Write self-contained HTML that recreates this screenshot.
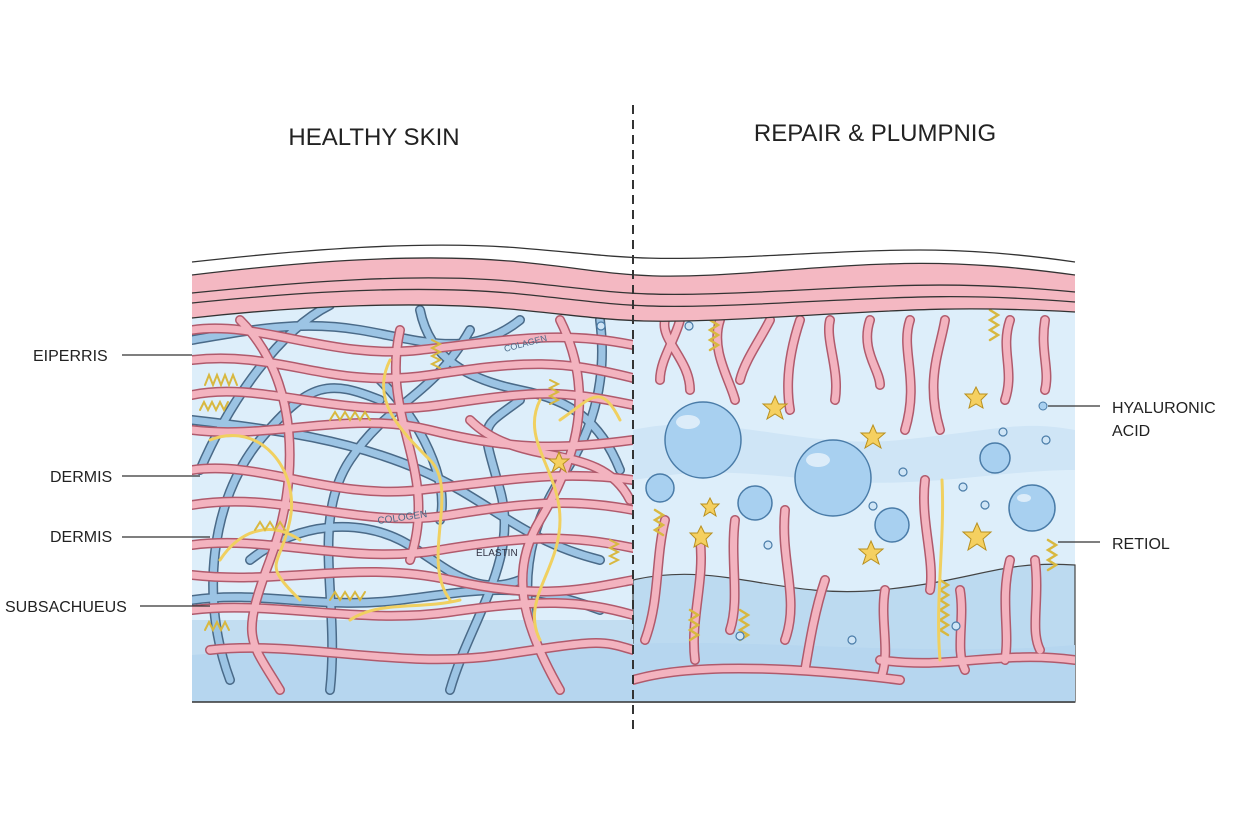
<!DOCTYPE html>
<html><head><meta charset="utf-8"><style>
html,body{margin:0;padding:0;background:#fff;}
svg{display:block;}
text{font-family:"Liberation Sans",sans-serif;fill:#222;}
</style></head><body>
<svg width="1248" height="832" viewBox="0 0 1248 832" xmlns="http://www.w3.org/2000/svg" xmlns:xlink="http://www.w3.org/1999/xlink">
<defs>
<clipPath id="L"><rect x="192" y="300" width="441" height="402"/></clipPath>
<clipPath id="R"><rect x="633" y="300" width="442" height="402"/></clipPath>
<g id="pinkL">
<path d="M192 330 C260 320 330 360 420 350 S560 330 633 345"/>
<path d="M192 360 C280 350 330 390 430 375 S560 360 633 378"/>
<path d="M192 395 C260 380 340 420 440 405 S560 390 633 405"/>
<path d="M192 430 C270 440 350 410 430 430 S560 450 633 440"/>
<path d="M192 470 C260 460 330 500 420 490 S560 470 633 480"/>
<path d="M192 505 C280 490 360 530 450 515 S580 500 633 510"/>
<path d="M192 545 C270 535 350 565 440 550 S570 535 633 548"/>
<path d="M192 575 C280 585 360 560 450 580 S580 590 633 580"/>
<path d="M192 610 C270 600 360 625 450 612 S580 600 633 615"/>
<path d="M240 320 C300 380 300 480 270 560 S250 640 280 690"/>
<path d="M560 320 C600 400 570 470 540 520 S520 620 560 690"/>
<path d="M400 330 C380 420 440 470 410 560"/>
<path d="M470 420 C520 470 600 440 630 500"/>
<path d="M210 650 C300 640 400 670 500 655 S600 640 633 650"/>
</g>
<g id="blueL">
<path d="M192 340 C250 330 300 320 360 330 S470 360 520 320"/>
<path d="M200 470 C230 400 280 330 330 305"/>
<path d="M230 680 C200 600 210 500 260 440 S330 380 380 400"/>
<path d="M330 690 C340 600 310 520 350 460 S430 400 470 330"/>
<path d="M420 310 C430 360 470 380 520 390 S600 420 620 470"/>
<path d="M192 420 C280 430 350 440 420 470 S520 540 600 560"/>
<path d="M192 600 C260 590 320 610 400 600 S520 580 600 610"/>
<path d="M450 690 C470 620 520 560 500 490 S480 430 520 400"/>
<path d="M600 320 C610 400 580 450 560 480 S520 560 530 620"/>
<path d="M250 560 C300 520 360 520 400 540 S470 600 520 580"/>
<path d="M380 380 C420 420 450 480 440 520"/>
</g>
<g id="yellowL" fill="none" stroke="#f0d060" stroke-width="3">
<path d="M210 440 C260 420 300 470 290 520 S260 560 300 600"/>
<path d="M390 360 C370 400 400 430 430 460 S420 560 450 600"/>
<path d="M540 400 C520 440 560 470 560 520 S520 600 540 640"/>
<path d="M220 560 C240 530 270 520 300 540"/>
<path d="M350 620 C380 600 420 610 460 600"/>
<path d="M560 420 C590 400 600 380 620 420"/>
</g>
</defs>
<text x="374" y="145" font-size="24" text-anchor="middle">HEALTHY SKIN</text>
<text x="875" y="141" font-size="24" text-anchor="middle">REPAIR &amp; PLUMPNIG</text>

<rect x="192" y="300" width="883" height="402" fill="#ddeefa"/>
<path d="M633 580 C720 560 780 600 880 590 S1000 560 1075 565 L1075 702 L633 702 Z" fill="#bcdaf0" stroke="#444" stroke-width="1.2"/>
<path d="M633 430 C720 410 800 450 900 440 S1020 420 1075 430 L1075 470 C1000 470 920 490 820 480 S700 470 633 480 Z" fill="#cfe5f6"/>
<path d="M192 620 L633 620 L633 702 L192 702 Z" fill="#c2ddf1"/>
<path d="M192 655 C300 645 420 670 560 650 S900 660 1075 645 L1075 702 L192 702 Z" fill="#b6d6ef"/>

<g clip-path="url(#L)" fill="none" stroke-linecap="round">
<use xlink:href="#blueL" stroke="#4a6a88" stroke-width="10"/>
<use xlink:href="#blueL" stroke="#9cc4e4" stroke-width="7"/>
<use xlink:href="#pinkL" stroke="#b05a6c" stroke-width="10"/>
<use xlink:href="#pinkL" stroke="#f3b3bf" stroke-width="7"/>
<use xlink:href="#yellowL"/>
<g stroke="#d8b840" stroke-width="2">
<path d="M205 385 l4 -10 l4 10 l4 -10 l4 10 l4 -10 l4 10 l4 -10 l4 10"/>
<path d="M200 410 l4 -8 l4 8 l4 -8 l4 8 l4 -8 l4 8 l4 -8"/>
<path d="M432 340 l8 4 l-8 4 l8 4 l-8 4 l8 4 l-8 4 l8 4"/>
<path d="M550 380 l8 4 l-8 4 l8 4 l-8 4 l8 4 l-8 4"/>
<path d="M330 420 l5 -8 l5 8 l5 -8 l5 8 l5 -8 l5 8 l5 -8 l5 8"/>
<path d="M255 530 l5 -8 l5 8 l5 -8 l5 8 l5 -8 l5 8"/>
<path d="M205 630 l4 -8 l4 8 l4 -8 l4 8 l4 -8 l4 8"/>
<path d="M610 540 l8 4 l-8 4 l8 4 l-8 4 l8 4 l-8 4"/>
<path d="M330 600 l5 -8 l5 8 l5 -8 l5 8 l5 -8 l5 8 l5 -8"/>
</g>
</g>
<text x="505" y="352" font-size="9" style="fill:#4a6a88" transform="rotate(-15 505 352)">COLAGEN</text>
<text x="378" y="524" font-size="10" style="fill:#4a6a88" transform="rotate(-8 378 524)">COLOGEN</text>
<text x="476" y="556" font-size="10" style="fill:#334">ELASTIN</text>

<g clip-path="url(#R)" fill="none" stroke-linecap="round">
<g stroke="#b05a6c" stroke-width="10">
<path d="M665 320 C660 340 690 360 690 390"/>
<path d="M680 320 C675 340 660 360 660 380"/>
<path d="M720 320 C710 350 730 380 735 400"/>
<path d="M770 320 C760 340 745 360 740 380"/>
<path d="M800 320 C790 350 785 380 790 410"/>
<path d="M830 320 C825 340 840 370 835 400"/>
<path d="M870 320 C860 350 880 370 880 385"/>
<path d="M910 320 C900 350 920 380 905 430"/>
<path d="M945 320 C940 350 925 380 940 430"/>
<path d="M1010 320 C1000 350 1015 370 1005 400"/>
<path d="M1045 320 C1040 350 1050 370 1045 390"/>
<path d="M665 520 C655 560 660 600 645 640"/>
<path d="M700 540 C705 580 690 620 695 660"/>
<path d="M735 520 C730 560 740 600 730 630"/>
<path d="M785 510 C780 560 800 600 785 640"/>
<path d="M825 580 C815 610 810 640 805 670"/>
<path d="M885 590 C880 620 890 650 882 675"/>
<path d="M925 480 C920 520 935 560 930 590"/>
<path d="M960 590 C965 620 955 650 965 670"/>
<path d="M1010 560 C1000 600 1010 630 1005 660"/>
<path d="M1035 560 C1040 600 1030 630 1040 650"/>
<path d="M880 660 C950 670 1000 650 1075 660"/>
<path d="M633 680 C700 660 820 670 900 680"/>
</g>
<g stroke="#f3b3bf" stroke-width="7">
<path d="M665 320 C660 340 690 360 690 390"/>
<path d="M680 320 C675 340 660 360 660 380"/>
<path d="M720 320 C710 350 730 380 735 400"/>
<path d="M770 320 C760 340 745 360 740 380"/>
<path d="M800 320 C790 350 785 380 790 410"/>
<path d="M830 320 C825 340 840 370 835 400"/>
<path d="M870 320 C860 350 880 370 880 385"/>
<path d="M910 320 C900 350 920 380 905 430"/>
<path d="M945 320 C940 350 925 380 940 430"/>
<path d="M1010 320 C1000 350 1015 370 1005 400"/>
<path d="M1045 320 C1040 350 1050 370 1045 390"/>
<path d="M665 520 C655 560 660 600 645 640"/>
<path d="M700 540 C705 580 690 620 695 660"/>
<path d="M735 520 C730 560 740 600 730 630"/>
<path d="M785 510 C780 560 800 600 785 640"/>
<path d="M825 580 C815 610 810 640 805 670"/>
<path d="M885 590 C880 620 890 650 882 675"/>
<path d="M925 480 C920 520 935 560 930 590"/>
<path d="M960 590 C965 620 955 650 965 670"/>
<path d="M1010 560 C1000 600 1010 630 1005 660"/>
<path d="M1035 560 C1040 600 1030 630 1040 650"/>
<path d="M880 660 C950 670 1000 650 1075 660"/>
<path d="M633 680 C700 660 820 670 900 680"/>
</g>
<g stroke="#d8b840" stroke-width="2.5">
<path d="M710 310 l8 5 l-8 5 l8 5 l-8 5 l8 5 l-8 5 l8 5 l-8 5"/>
<path d="M990 310 l8 5 l-8 5 l8 5 l-8 5 l8 5 l-8 5"/>
<path d="M655 510 l8 5 l-8 5 l8 5 l-8 5 l8 5"/>
<path d="M1048 540 l8 5 l-8 5 l8 5 l-8 5 l8 5 l-8 5"/>
<path d="M940 580 l8 5 l-8 5 l8 5 l-8 5 l8 5 l-8 5 l8 5 l-8 5 l8 5 l-8 5 l8 5"/>
<path d="M690 610 l8 5 l-8 5 l8 5 l-8 5 l8 5 l-8 5"/>
<path d="M740 610 l8 5 l-8 5 l8 5 l-8 5 l8 5 l-8 5"/>
<path d="M942 480 C945 540 935 600 940 660" stroke-width="3" stroke="#f0d060"/>
</g>
</g>
<g stroke="#4a7ca8" stroke-width="1.5" fill="#a8d0f0">
<circle cx="703" cy="440" r="38"/>
<circle cx="833" cy="478" r="38"/>
<circle cx="660" cy="488" r="14"/>
<circle cx="755" cy="503" r="17"/>
<circle cx="892" cy="525" r="17"/>
<circle cx="1032" cy="508" r="23"/>
<circle cx="995" cy="458" r="15"/>
</g>
<g fill="#fff" opacity="0.6">
<ellipse cx="688" cy="422" rx="12" ry="7"/><ellipse cx="818" cy="460" rx="12" ry="7"/><ellipse cx="1024" cy="498" rx="7" ry="4"/>
</g>
<g fill="#cfe5f6" stroke="#4a7ca8" stroke-width="1.2">
<circle cx="601" cy="326" r="4"/><circle cx="689" cy="326" r="4"/><circle cx="1003" cy="432" r="4"/><circle cx="1046" cy="440" r="4"/>
<circle cx="903" cy="472" r="4"/><circle cx="963" cy="487" r="4"/><circle cx="985" cy="505" r="4"/><circle cx="768" cy="545" r="4"/>
<circle cx="740" cy="636" r="4"/><circle cx="852" cy="640" r="4"/><circle cx="956" cy="626" r="4"/><circle cx="873" cy="506" r="4"/>
</g>
<g fill="#f5d060" stroke="#b89020" stroke-width="1">
<path transform="translate(775,408)" d="M0 -12 L3.5 -4 L12 -4 L5 2 L8 11 L0 6 L-8 11 L-5 2 L-12 -4 L-3.5 -4 Z"/>
<path transform="translate(873,437)" d="M0 -12 L3.5 -4 L12 -4 L5 2 L8 11 L0 6 L-8 11 L-5 2 L-12 -4 L-3.5 -4 Z"/>
<path transform="translate(976,398)" d="M0 -11 L3.5 -4 L11 -4 L5 2 L7 10 L0 6 L-7 10 L-5 2 L-11 -4 L-3.5 -4 Z"/>
<path transform="translate(710,507)" d="M0 -9 L3 -3 L9 -3 L4 2 L6 9 L0 5 L-6 9 L-4 2 L-9 -3 L-3 -3 Z"/>
<path transform="translate(701,537)" d="M0 -11 L3.5 -4 L11 -4 L5 2 L7 10 L0 6 L-7 10 L-5 2 L-11 -4 L-3.5 -4 Z"/>
<path transform="translate(871,553)" d="M0 -12 L3.5 -4 L12 -4 L5 2 L8 11 L0 6 L-8 11 L-5 2 L-12 -4 L-3.5 -4 Z"/>
<path transform="translate(977,537)" d="M0 -14 L4 -5 L14 -5 L6 2 L9 13 L0 7 L-9 13 L-6 2 L-14 -5 L-4 -5 Z"/>
<path transform="translate(559,462)" d="M0 -10 L3 -3 L10 -3 L4 2 L7 10 L0 5 L-7 10 L-4 2 L-10 -3 L-3 -3 Z"/>
</g>

<path d="M192 275 C300 262 420 252 520 262 S630 282 760 272 S950 258 1075 275 L1075 312 C950 305 890 311 760 318 C630 325 620 320 520 310 C420 300 300 306 192 318 Z" fill="#f4b8c2"/>
<g fill="none" stroke="#333" stroke-width="1.3">
<path d="M192 275 C300 262 420 252 520 262 S630 282 760 272 S950 258 1075 275"/>
<path d="M192 293 C300 282 420 272 520 282 S630 298 760 292 S950 280 1075 292"/>
<path d="M192 303 C300 292 420 284 520 294 S630 310 760 304 S950 292 1075 302"/>
<path d="M192 318 C300 306 420 300 520 310 S630 325 760 318 S950 305 1075 312"/>
<path d="M192 262 C300 250 420 240 520 248 S630 262 760 256 S950 244 1075 262"/>
</g>
<line x1="192" y1="702" x2="1075" y2="702" stroke="#333" stroke-width="1.5"/>

<line x1="633" y1="105" x2="633" y2="732" stroke="#333" stroke-width="2" stroke-dasharray="9,6"/>

<g stroke="#333" stroke-width="1.2">
<line x1="122" y1="355" x2="192" y2="355"/>
<line x1="122" y1="476" x2="200" y2="476"/>
<line x1="122" y1="537" x2="210" y2="537"/>
<line x1="140" y1="606" x2="210" y2="606"/>
<line x1="1048" y1="406" x2="1100" y2="406"/>
<line x1="1058" y1="542" x2="1100" y2="542"/>
</g>
<circle cx="1043" cy="406" r="4" fill="#a8d0f0" stroke="#4a7ca8"/>
<g font-size="16">
<text x="33" y="361">EIPERRIS</text>
<text x="50" y="482">DERMIS</text>
<text x="50" y="542">DERMIS</text>
<text x="5" y="612">SUBSACHUEUS</text>
<text x="1112" y="413">HYALURONIC</text>
<text x="1112" y="436">ACID</text>
<text x="1112" y="549">RETIOL</text>
</g>
</svg>
</body></html>
